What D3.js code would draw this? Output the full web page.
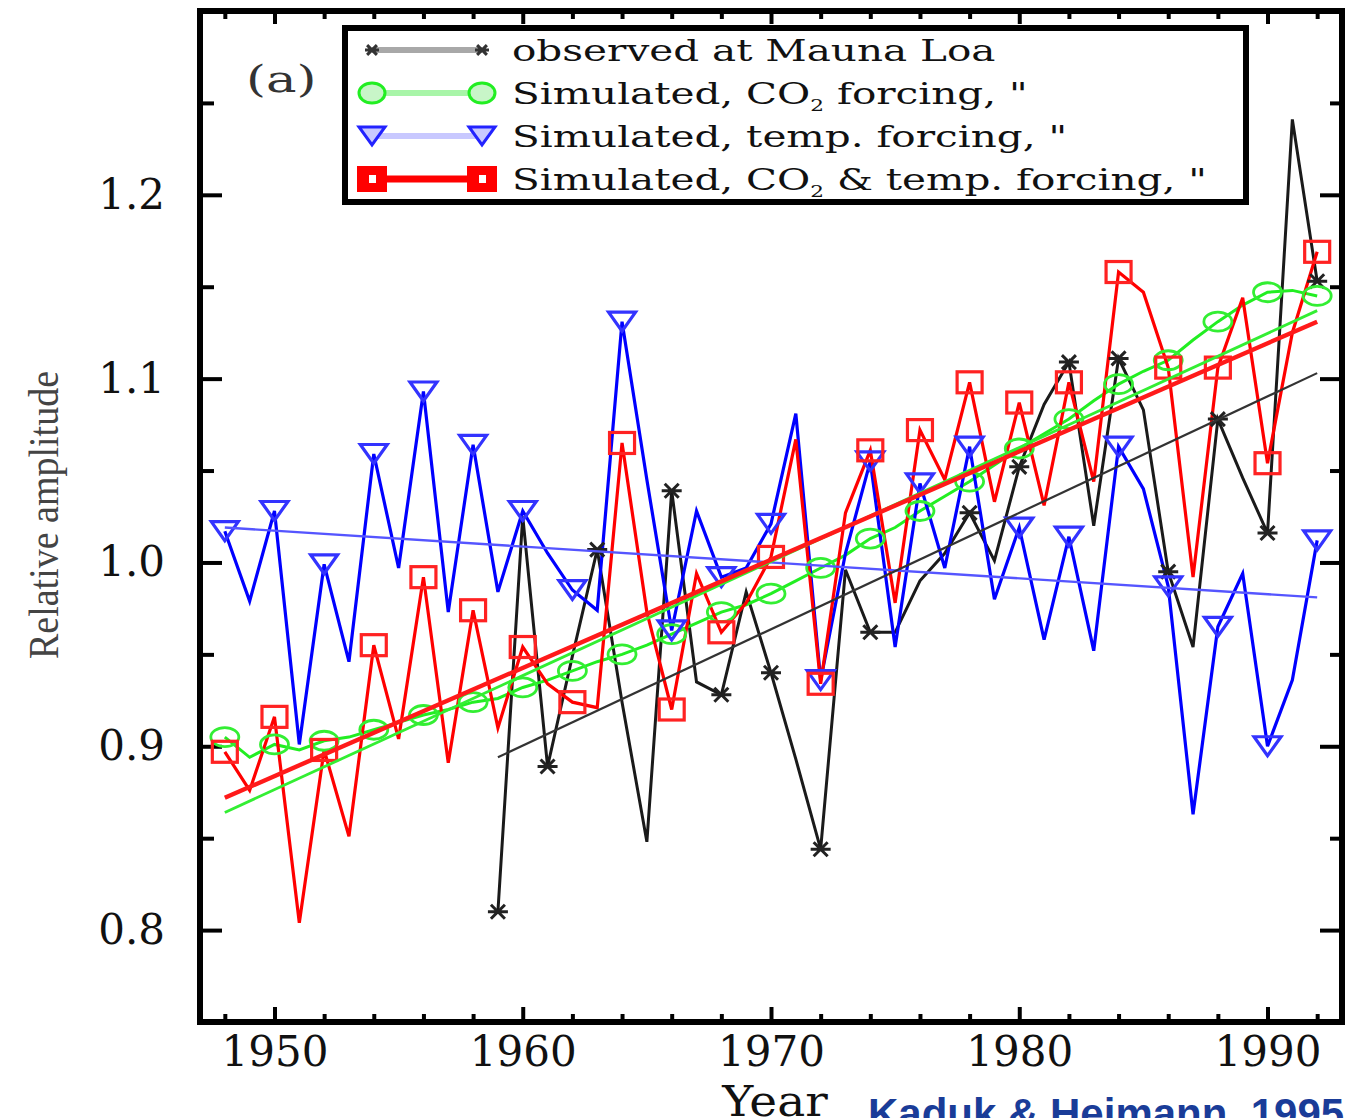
<!DOCTYPE html>
<html>
<head>
<meta charset="utf-8">
<script src="https://cdn.jsdelivr.net/npm/d3@7"></script>
<style>
  body { margin: 0; background: #fff; }
  svg { display: block; }
</style>
</head>
<body>
<svg width="1347" height="1118"></svg>
<script>
// years of the simulated runs
var years = [1948,1949,1950,1951,1952,1953,1954,1955,1956,1957,1958,1959,1960,1961,1962,1963,
  1964,1965,1966,1967,1968,1969,1970,1971,1972,1973,1974,1975,1976,1977,1978,1979,1980,1981,
  1982,1983,1984,1985,1986,1987,1988,1989,1990,1991,1992];
// simulated, CO2 forcing
var co2Values = [0.905,0.894,0.901,0.898,0.903,0.905,0.909,0.913,0.917,0.920,0.924,0.926,0.932,
  0.936,0.941,0.946,0.950,0.955,0.961,0.967,0.973,0.977,0.983,0.990,0.997,1.004,1.013,1.019,
  1.028,1.036,1.044,1.053,1.062,1.070,1.078,1.088,1.097,1.104,1.110,1.121,1.131,1.140,1.147,
  1.148,1.145];
// simulated, temp. forcing
var tempValues = [1.017,0.979,1.028,0.901,0.999,0.946,1.059,0.997,1.093,0.973,1.064,0.984,1.028,
  1.005,0.985,0.974,1.131,1.045,0.963,1.028,0.992,0.997,1.021,1.081,0.936,1.005,1.055,0.954,
  1.043,0.997,1.063,0.980,1.019,0.958,1.014,0.952,1.063,1.040,0.987,0.863,0.965,0.994,0.900,
  0.936,1.012];
// simulated, CO2 & temp. forcing
var bothValues = [0.897,0.876,0.916,0.804,0.898,0.851,0.955,0.904,0.992,0.891,0.974,0.910,0.954,
  0.934,0.924,0.921,1.065,0.973,0.920,0.994,0.962,0.978,1.003,1.067,0.934,1.027,1.061,0.978,
  1.072,1.045,1.098,1.033,1.087,1.031,1.098,1.044,1.158,1.147,1.106,0.992,1.106,1.144,1.054,
  1.125,1.169];
// observed at Mauna Loa
var obsYears = [1959,1960,1961,1962,1963,1964,1965,1966,1967,1968,1969,1970,1971,1972,1973,1974,
  1975,1976,1977,1978,1979,1980,1981,1982,1983,1984,1985,1986,1987,1988,1989,1990,1991,1992];
var obsValues = [0.810,1.025,0.889,0.949,1.007,0.924,0.848,1.039,0.935,0.928,0.984,0.940,0.893,
  0.844,0.996,0.962,0.962,0.990,1.005,1.027,1.001,1.052,1.086,1.109,1.020,1.111,1.083,0.995,
  0.954,1.078,1.046,1.016,1.241,1.153];
var obsMarkerYears = [1959,1961,1963,1966,1968,1970,1972,1974,1978,1980,1982,1984,1986,1988,1990,1992];
var simMarkerYears = [1948,1950,1952,1954,1956,1958,1960,1962,1964,1966,1968,1970,1972,1974,1976,
  1978,1980,1982,1984,1986,1988,1990,1992];

// linear trends, [start, end]
var obsTrend = [[1959, 0.894], [1992, 1.103]];
var co2Trend = [[1948, 0.864], [1992, 1.137]];
var tempTrend = [[1948, 1.019], [1992, 0.981]];
var bothTrend = [[1948, 0.872], [1992, 1.131]];

var xMajor = [1950, 1960, 1970, 1980, 1990];
var xMinor = [1948,1952,1954,1956,1958,1962,1964,1966,1968,1972,1974,1976,1978,1982,1984,1986,1988,1992];
var yMajor = [0.8, 0.9, 1.0, 1.1, 1.2];
var yMinor = [0.85, 0.95, 1.05, 1.15, 1.25];

DrawChart();

function DrawChart(){
var svg = d3.select("svg");
var pLeft = 200, pRight = 1342, pTop = 11, pBottom = 1022;

var x = d3.scaleLinear().domain([1947, 1993]).range([pLeft, pRight]);
var y = d3.scaleLinear().domain([0.75, 1.3]).range([pBottom, pTop]);

var serif = "'DejaVu Serif', serif";

// axes, ticks pointing inward
function tickAxis(axis, transform, size, values, labels) {
  var g = svg.append("g").attr("transform", transform)
    .call(axis.tickValues(values).tickSizeInner(-size).tickSizeOuter(0)
      .tickFormat(labels ? labels : ""));
  g.select(".domain").remove();
  g.selectAll(".tick line").attr("stroke", "#000").attr("stroke-width", 4);
  g.selectAll(".tick text").style("font-family", serif).style("font-size", "42px").attr("fill", "#111");
  return g;
}
tickAxis(d3.axisBottom(x).tickPadding(14), "translate(0," + pBottom + ")", 15, xMajor, d3.format("d"));
tickAxis(d3.axisBottom(x), "translate(0," + pBottom + ")", 8, xMinor);
tickAxis(d3.axisTop(x), "translate(0," + pTop + ")", 13, xMajor);
tickAxis(d3.axisTop(x), "translate(0," + pTop + ")", 8, xMinor);
tickAxis(d3.axisLeft(y).tickPadding(35), "translate(" + pLeft + ",0)", 22, yMajor, d3.format(".1f"));
tickAxis(d3.axisLeft(y), "translate(" + pLeft + ",0)", 14, yMinor);
tickAxis(d3.axisRight(y), "translate(" + pRight + ",0)", 22, yMajor);
tickAxis(d3.axisRight(y), "translate(" + pRight + ",0)", 12, yMinor);

var plot = svg.append("g");

var line = d3.line().x(function(d) { return x(d[0]); }).y(function(d) { return y(d[1]); });

function pairs(xs, vs) { return xs.map(function(v, i) { return [v, vs[i]]; }); }
function pick(xs, vs, keep) { return pairs(xs, vs).filter(function(d) { return keep.indexOf(d[0]) >= 0; }); }

var obsData = pairs(obsYears, obsValues);
var co2Data = pairs(years, co2Values);
var tempData = pairs(years, tempValues);
var bothData = pairs(years, bothValues);

// markers
function asterisk(s) {
  return "M" + (-s) + ",0H" + s + "M" + (-s * 0.7) + "," + (-s * 0.7) + "L" + (s * 0.7) + "," + (s * 0.7) +
    "M" + (-s * 0.7) + "," + (s * 0.7) + "L" + (s * 0.7) + "," + (-s * 0.7);
}
function triangle(w, h) {
  return "M" + (-w / 2) + "," + (-h / 2) + "H" + (w / 2) + "L0," + (h / 2) + "Z";
}

// series lines
plot.append("path").datum(obsData).attr("d", line)
  .attr("fill", "none").attr("stroke", "#1a1a1a").attr("stroke-width", 3);
plot.append("path").datum(co2Data).attr("d", line)
  .attr("fill", "none").attr("stroke", "#22ee22").attr("stroke-width", 3);
plot.append("path").datum(tempData).attr("d", line)
  .attr("fill", "none").attr("stroke", "#0000ff").attr("stroke-width", 3.2);
plot.append("path").datum(bothData).attr("d", line)
  .attr("fill", "none").attr("stroke", "#ff0000").attr("stroke-width", 3.2);

plot.selectAll(".obsmark").data(pick(obsYears, obsValues, obsMarkerYears)).enter().append("path")
  .attr("transform", function(d) { return "translate(" + x(d[0]) + "," + y(d[1]) + ")"; })
  .attr("d", asterisk(10)).attr("stroke", "#222").attr("stroke-width", 3).attr("fill", "none");
plot.selectAll(".co2mark").data(pick(years, co2Values, simMarkerYears)).enter().append("ellipse")
  .attr("cx", function(d) { return x(d[0]); }).attr("cy", function(d) { return y(d[1]); })
  .attr("rx", 14).attr("ry", 9.5).attr("fill", "none").attr("stroke", "#33ee33").attr("stroke-width", 2.8);
plot.selectAll(".tempmark").data(pick(years, tempValues, simMarkerYears)).enter().append("path")
  .attr("transform", function(d) { return "translate(" + x(d[0]) + "," + y(d[1]) + ")"; })
  .attr("d", triangle(27, 19)).attr("fill", "none").attr("stroke", "#3333ff").attr("stroke-width", 3.2);
plot.selectAll(".bothmark").data(pick(years, bothValues, simMarkerYears)).enter().append("rect")
  .attr("x", function(d) { return x(d[0]) - 12.5; }).attr("y", function(d) { return y(d[1]) - 10.5; })
  .attr("width", 25).attr("height", 21).attr("fill", "none").attr("stroke", "#ff2222").attr("stroke-width", 3.2);

// trend lines
plot.append("path").datum(tempTrend).attr("d", line)
  .attr("stroke", "#5555ff").attr("stroke-width", 2.4).attr("fill", "none");
plot.append("path").datum(obsTrend).attr("d", line)
  .attr("stroke", "#333").attr("stroke-width", 2.2).attr("fill", "none");
plot.append("path").datum(co2Trend).attr("d", line)
  .attr("stroke", "#33ee33").attr("stroke-width", 2.8).attr("fill", "none");
plot.append("path").datum(bothTrend).attr("d", line)
  .attr("stroke", "#ff1a1a").attr("stroke-width", 4.4).attr("fill", "none");

// frame
svg.append("rect").attr("x", pLeft).attr("y", pTop).attr("width", pRight - pLeft).attr("height", pBottom - pTop)
  .attr("fill", "none").attr("stroke", "#000").attr("stroke-width", 6);

// panel label
svg.append("text").attr("transform", "translate(246,92) scale(1.35,1)").text("(a)")
  .style("font-family", serif).style("font-size", "38px").attr("fill", "#333");

// legend
var legend = svg.append("g");
legend.append("rect").attr("x", 345).attr("y", 28).attr("width", 901).attr("height", 174)
  .attr("fill", "#fff").attr("stroke", "#000").attr("stroke-width", 6);
var legendRows = [
  { label: ["observed at Mauna Loa"], color: "#a8a8a8", mark: "obs" },
  { label: ["Simulated, CO", "2", " forcing, \""], color: "#a8f5a8", mark: "co2" },
  { label: ["Simulated, temp. forcing, \""], color: "#c8c8ff", mark: "temp" },
  { label: ["Simulated, CO", "2", " & temp. forcing, \""], color: "#ff0000", mark: "both" }
];
legendRows.forEach(function(r, i) {
  var ly = 50 + i * 43;
  var row = legend.append("g").attr("transform", "translate(0," + ly + ")");
  row.append("line").attr("x1", 372).attr("x2", 482).attr("y1", 0).attr("y2", 0)
    .attr("stroke", r.color).attr("stroke-width", r.mark === "both" ? 7 : 6);
  [372, 482].forEach(function(mx) {
    if (r.mark === "obs") {
      row.append("path").attr("transform", "translate(" + mx + ",0)").attr("d", asterisk(7))
        .attr("stroke", "#333").attr("stroke-width", 3).attr("fill", "none");
    } else if (r.mark === "co2") {
      row.append("ellipse").attr("cx", mx).attr("cy", 0).attr("rx", 13).attr("ry", 10)
        .attr("fill", "#c8f5c8").attr("stroke", "#22ee22").attr("stroke-width", 3);
    } else if (r.mark === "temp") {
      row.append("path").attr("transform", "translate(" + mx + ",0)").attr("d", triangle(26, 18))
        .attr("fill", "#c8c8ff").attr("stroke", "#2222ff").attr("stroke-width", 3);
    } else {
      row.append("rect").attr("x", mx - 15).attr("y", -13).attr("width", 30).attr("height", 26)
        .attr("fill", "#ff0000");
      row.append("rect").attr("x", mx - 3).attr("y", -4).attr("width", 7).attr("height", 8)
        .attr("fill", "#fff");
    }
  });
  var t = row.append("text").attr("transform", "translate(512,11) scale(1.35,1)")
    .style("font-family", serif).style("font-size", "30px").attr("fill", "#111");
  t.append("tspan").text(r.label[0]);
  if (r.label.length > 1) {
    t.append("tspan").attr("dy", 7).style("font-size", "16px").text(r.label[1]);
    t.append("tspan").attr("dy", -7).text(r.label[2]);
  }
});

// axis titles
svg.append("text").attr("transform", "translate(775,1116) scale(1.12,1)").attr("text-anchor", "middle").text("Year")
  .style("font-family", serif).style("font-size", "42px").attr("fill", "#111");
svg.append("text").attr("transform", "translate(58,515) rotate(-90)").attr("text-anchor", "middle")
  .attr("textLength", 288).attr("lengthAdjust", "spacingAndGlyphs").text("Relative amplitude")
  .style("font-family", "'Liberation Serif', serif").style("font-size", "42px").attr("fill", "#444");

// credit
svg.append("text").attr("x", 868).attr("y", 1128).text("Kaduk & Heimann, 1995")
  .style("font-family", "'Liberation Sans', Arial, sans-serif").style("font-weight", "bold")
  .style("font-size", "42px").attr("fill", "#1a3c98");
}
</script>
</body>
</html>
